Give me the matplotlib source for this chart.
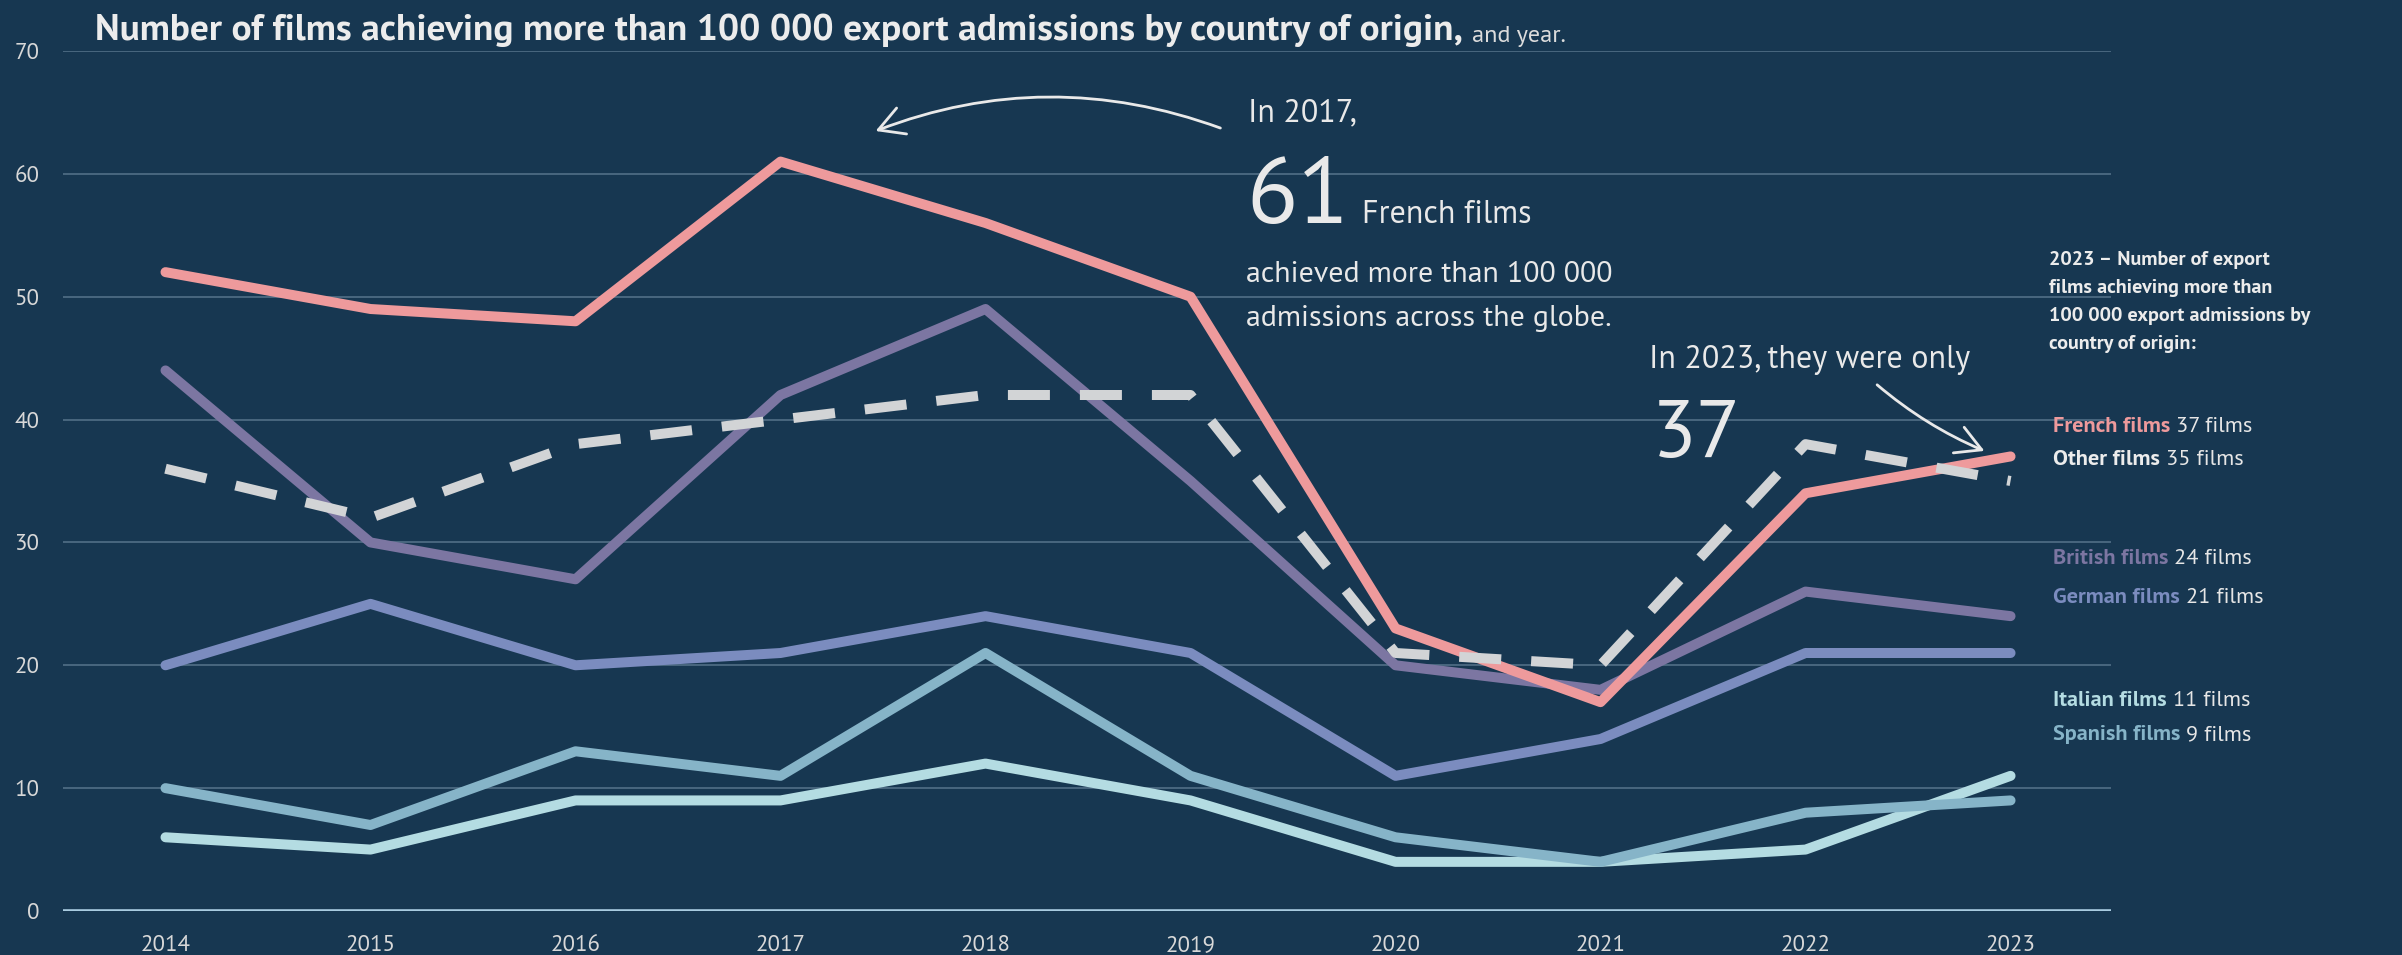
import matplotlib
matplotlib.use('Agg')
import matplotlib.pyplot as plt
from matplotlib.patches import FancyArrowPatch

# ---------------- data ----------------
years = [2014, 2015, 2016, 2017, 2018, 2019, 2020, 2021, 2022, 2023]
french = [52, 49, 48, 61, 56, 50, 23, 17, 34, 37]
other = [36, 32, 38, 40, 42, 42, 21, 20, 38, 35]
british = [44, 30, 27, 42, 49, 35, 20, 18, 26, 24]
german = [20, 25, 20, 21, 24, 21, 11, 14, 21, 21]
spanish = [10, 7, 13, 11, 21, 11, 6, 4, 8, 9]
italian = [6, 5, 9, 9, 12, 9, 4, 4, 5, 11]
y_ticks = [0, 10, 20, 30, 40, 50, 60, 70]
legend_names = ["French films", "Other films", "British films",
                "German films", "Italian films", "Spanish films"]
legend_values = ["37 films", "35 films", "24 films", "21 films", "11 films", "9 films"]

# ---------------- style ----------------
W, H = 2402, 955
BG = '#173751'
C_FR = '#ee9a9c'
C_OT = '#d2d4d6'
C_BR = '#7c76a2'
C_DE = '#7b8cbf'
C_IT = '#b4dce2'
C_ES = '#86b4c8'
TXT = '#e9e9e9'
SANS = ['PT Sans', 'Lato', 'DejaVu Sans']

fig = plt.figure(figsize=(W / 100, H / 100), dpi=100, facecolor=BG)


def fx(x):
    return x / W


def fy(y):
    return 1 - y / H


ax = fig.add_axes([fx(63), fy(911), fx(2111) - fx(63), fy(51) - fy(911)])
ax.set_facecolor(BG)
ax.set_xlim(2013.5, 2023.49)
ax.set_ylim(0, 70)
for s in ax.spines.values():
    s.set_visible(False)

for v in y_ticks:
    if v == 0:
        ax.axhline(v, color='#a9cbe0', lw=2.6, zorder=1)
    else:
        ax.axhline(v, color='#4d6a82', lw=1.3, zorder=1)

ax.set_yticks(y_ticks)
ax.set_xticks(years)
ax.tick_params(length=0, colors='#d8d8d8', labelsize=16.5)
ax.tick_params(axis='y', pad=17)
ax.tick_params(axis='x', pad=17)
for lab in ax.get_xticklabels() + ax.get_yticklabels():
    lab.set_family(SANS)

lw = 7.2
kw = dict(lw=lw, solid_capstyle='round', solid_joinstyle='round')
ax.plot(years, italian, color=C_IT, zorder=3, **kw)
ax.plot(years, spanish, color=C_ES, zorder=3, **kw)
ax.plot(years, german, color=C_DE, zorder=3, **kw)
ax.plot(years, british, color=C_BR, zorder=3, **kw)
ax.plot(years, french, color=C_FR, zorder=4, **kw)
ax.plot(years, other, color=C_OT, lw=lw, dashes=(4.2, 3.0), dash_capstyle='butt', zorder=5)

# ---------------- title ----------------
t = fig.text(fx(95), fy(40), "Number of films achieving more than 100 000 export admissions by country of origin,",
             family=SANS, weight='bold', fontsize=26.9, color='#ececec', va='baseline', ha='left')
fig.add_artist(plt.Annotation("and year.", xy=(1, 0), xycoords=t, xytext=(9, 0),
                              textcoords='offset pixels', va='bottom', ha='left',
                              family=SANS, fontsize=17.5, color='#dcdcdc'))

# ---------------- annotation 2017 ----------------
fig.text(fx(1248), fy(121), "In 2017,", family=SANS, fontsize=23, color=TXT, va='baseline')
fig.text(fx(1246), fy(223), "61", family=SANS, fontsize=68, color=TXT, va='baseline')
fig.text(fx(1362), fy(223), "French films", family=SANS, fontsize=23, color=TXT, va='baseline')
fig.text(fx(1246), fy(282), "achieved more than 100 000", family=SANS, fontsize=21.5, color=TXT, va='baseline')
fig.text(fx(1246), fy(326), "admissions across the globe.", family=SANS, fontsize=21.5, color=TXT, va='baseline')

a1 = FancyArrowPatch((fx(1223), fy(129)), (fx(873), fy(132)), transform=fig.transFigure,
                     connectionstyle='arc3,rad=0.19',
                     arrowstyle='->,head_length=0.9,head_width=0.5', mutation_scale=20,
                     color=TXT, lw=2)
fig.add_artist(a1)

# ---------------- annotation 2023 ----------------
fig.text(fx(1649), fy(368), "In 2023, they were only", family=SANS, fontsize=23, color=TXT, va='baseline')
fig.text(fx(1652), fy(457), "37", family=SANS, fontsize=59, color=TXT, va='baseline')
a2 = FancyArrowPatch((fx(1875), fy(383)), (fx(1987), fy(452)), transform=fig.transFigure,
                     connectionstyle='arc3,rad=0.08',
                     arrowstyle='->,head_length=0.9,head_width=0.5', mutation_scale=20,
                     color=TXT, lw=2)
fig.add_artist(a2)

# ---------------- right legend ----------------
title_lines = ["2023 \u2013 Number of export", "films achieving more than",
               "100 000 export admissions by", "country of origin:"]
for i, line in enumerate(title_lines):
    fig.text(fx(2049), fy(265 + 28 * i), line, family=SANS, weight='bold',
             fontsize=14.5, color='#ececec', va='baseline')

leg_colors = [C_FR, '#ececec', C_BR, C_DE, C_IT, C_ES]
leg_base = [432, 465, 564, 603, 706, 740]
for name, val, c, yb in zip(legend_names, legend_values, leg_colors, leg_base):
    tn = fig.text(fx(2053), fy(yb), name, family=SANS, weight='bold',
                  fontsize=16, color=c, va='baseline')
    fig.add_artist(plt.Annotation(val, xy=(1, 0), xycoords=tn, xytext=(6, 0),
                                  textcoords='offset pixels', va='bottom', ha='left',
                                  family=SANS, fontsize=16, color='#e6e6e6'))

fig.savefig('out.png', dpi=100, facecolor=BG)
